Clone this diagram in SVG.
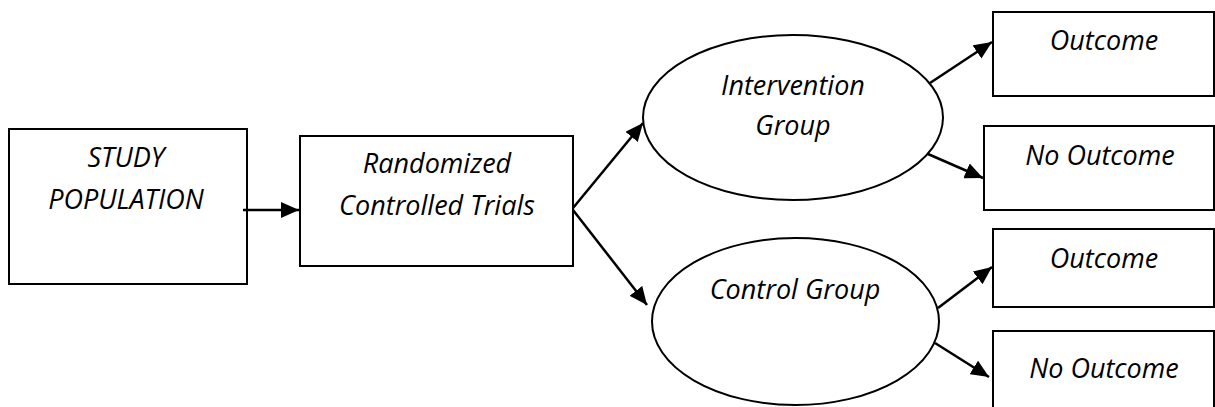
<svg xmlns="http://www.w3.org/2000/svg" width="1215" height="407" viewBox="0 0 1215 407">
<style>
.box{fill:#fff;stroke:#000;stroke-width:2}
.lbl{font-family:"Open Sans","Liberation Sans",sans-serif;font-style:italic;font-size:27px;fill:#000;text-anchor:middle}
.conn{stroke:#000;stroke-width:2.5;fill:none;marker-end:url(#ah)}
</style>
<defs>
<marker id="ah" markerUnits="userSpaceOnUse" markerWidth="18" markerHeight="16" viewBox="0 0 18 16" refX="18" refY="8" orient="auto">
<path d="M0,0 L18,8 L0,16 Z" fill="#000"/>
</marker>
</defs>
<rect width="1215" height="407" fill="#fff"/>
<g id="study">
<rect class="box" x="9" y="129" width="238" height="155"/>
<text class="lbl" x="126" y="167">STUDY</text>
<text class="lbl" x="126" y="209">POPULATION</text>
</g>
<g id="rct">
<rect class="box" x="300" y="136" width="273" height="130"/>
<text class="lbl" x="437" y="173">Randomized</text>
<text class="lbl" x="437" y="215">Controlled Trials</text>
</g>
<g id="intervention">
<ellipse class="box" cx="793" cy="117.5" rx="150" ry="82.5"/>
<text class="lbl" x="793" y="95">Intervention</text>
<text class="lbl" x="793" y="135">Group</text>
</g>
<g id="control">
<ellipse class="box" cx="795.5" cy="321.5" rx="143.5" ry="83.5"/>
<text class="lbl" x="795" y="299">Control Group</text>
</g>
<g id="outcome1">
<rect class="box" x="993" y="12" width="221" height="84"/>
<text class="lbl" x="1104" y="50">Outcome</text>
</g>
<g id="nooutcome1">
<rect class="box" x="984" y="126" width="230" height="84"/>
<text class="lbl" x="1100" y="165">No Outcome</text>
</g>
<g id="outcome2">
<rect class="box" x="993" y="229" width="221" height="78"/>
<text class="lbl" x="1104" y="268">Outcome</text>
</g>
<g id="nooutcome2">
<rect class="box" x="993" y="331" width="221" height="90"/>
<text class="lbl" x="1104" y="378">No Outcome</text>
</g>
<g id="connectors">
<line class="conn" x1="243" y1="210" x2="299" y2="210"/>
<line class="conn" x1="573" y1="208" x2="643" y2="123"/>
<line class="conn" x1="573" y1="210" x2="647" y2="305"/>
<line class="conn" x1="930" y1="83" x2="992" y2="42"/>
<line class="conn" x1="928" y1="154" x2="983" y2="178"/>
<line class="conn" x1="938" y1="308" x2="992" y2="267"/>
<line class="conn" x1="935" y1="343" x2="989" y2="377"/>
</g>
</svg>
